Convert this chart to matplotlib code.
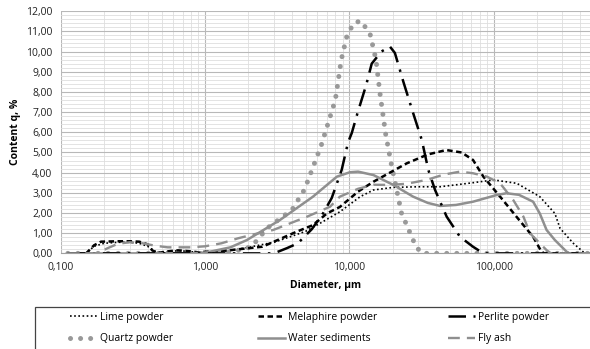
import numpy as np
import matplotlib
matplotlib.use("Agg")
import matplotlib.pyplot as plt
from matplotlib.patches import Rectangle
from matplotlib.ticker import FixedLocator, FuncFormatter, MultipleLocator, NullFormatter

plt.rcParams['font.family'] = ['Open Sans', 'DejaVu Sans']

# particle size distributions (diameter in um, content in %)
lime_x = [0.112, 0.15, 0.17, 0.2, 0.25, 0.3, 0.35, 0.4, 0.45, 0.5, 0.6, 0.7, 0.8, 0.9, 1.0, 1.2, 1.5,
          2.0, 3.0, 4.0, 5.0, 6.3, 8.6, 11.9, 14.7, 20.2, 30, 42.6, 72, 100, 145, 209, 266, 289, 357, 417, 460, 500]
lime_y = [0, 0, 0.35, 0.5, 0.55, 0.55, 0.5, 0.35, 0.1, 0.05, 0.12, 0.12, 0.08, 0.05, 0.05, 0.08, 0.15,
          0.3, 0.55, 0.85, 1.1, 1.5, 2.06, 2.81, 3.14, 3.27, 3.3, 3.3, 3.5, 3.64, 3.47, 2.81, 1.98, 1.24, 0.5, 0.08, 0, 0]

mela_x = [0.112, 0.15, 0.17, 0.19, 0.25, 0.3, 0.35, 0.4, 0.43, 0.47, 0.55, 0.65, 0.8, 0.9, 1.0, 1.2, 1.5,
          2.5, 4.3, 5.6, 7.0, 8.6, 11.5, 14.7, 25, 35, 47, 60, 72, 85, 111, 144, 188, 215, 225, 500]
mela_y = [0, 0, 0.4, 0.58, 0.6, 0.6, 0.58, 0.45, 0.15, 0.02, 0.1, 0.15, 0.1, 0.05, 0.08, 0.1, 0.16,
          0.33, 1.07, 1.4, 1.98, 2.3, 3.06, 3.55, 4.46, 4.9, 5.12, 5.0, 4.63, 3.8, 2.81, 1.82, 0.82, 0.08, 0, 0]

perl_x = [0.112, 1.0, 3.0, 3.7, 4.4, 5.5, 6.6, 7.55, 8.85, 9.8, 10.4, 11.4, 13.1, 14.3, 16.7, 19.1, 20.7,
          23.7, 27.7, 31.8, 35.3, 39.3, 47.3, 58.5, 72, 85, 500]
perl_y = [0, 0, 0, 0.26, 0.5, 1.2, 2.0, 2.74, 4.13, 5.5, 5.96, 6.95, 8.35, 9.4, 10.0, 10.25, 9.93,
          8.5, 6.95, 5.62, 4.13, 3.14, 1.82, 0.82, 0.33, 0, 0]

quar_x = [0.112, 1.0, 1.3, 1.6, 2.1, 2.7, 4.0, 4.9, 6.4, 8.0, 8.8, 9.6, 10.7, 12, 13.9, 15.3, 16.3,
          17.9, 19.7, 23, 29, 32, 500]
quar_y = [0, 0, 0, 0.1, 0.33, 1.25, 2.15, 3.17, 5.37, 7.6, 9.6, 10.74, 11.4, 11.52, 10.9, 9.6, 7.95,
          5.87, 4.3, 2.0, 0.33, 0, 0]

water_x = [0.112, 0.8, 1.03, 1.5, 1.95, 3.3, 5.6, 8.2, 10.1, 11.5, 14.7, 20.2, 27.7, 35, 42.6, 55, 72,
           105, 123, 150, 188, 209, 233, 266, 321, 330, 500]
water_y = [0, 0, 0.05, 0.3, 0.66, 1.65, 2.81, 3.8, 4.02, 4.05, 3.88, 3.39, 2.81, 2.5, 2.35, 2.4, 2.56,
           2.89, 2.98, 2.9, 2.56, 1.98, 1.16, 0.66, 0.08, 0, 0]

fly_x = [0.112, 0.18, 0.21, 0.25, 0.3, 0.37, 0.45, 0.55, 0.8, 1.0, 1.3, 1.7, 2.2, 2.97, 5.1, 7.35, 8.6,
         11.5, 14.7, 19.1, 25, 34.4, 45, 58.5, 72, 90, 111, 137, 161, 179, 233, 250, 500]
fly_y = [0, 0, 0.25, 0.48, 0.55, 0.5, 0.38, 0.3, 0.3, 0.35, 0.5, 0.75, 0.95, 1.16, 1.82, 2.31, 2.81,
         3.2, 3.4, 3.39, 3.45, 3.64, 3.9, 4.05, 3.97, 3.8, 3.47, 2.64, 1.82, 0.99, 0.16, 0, 0]

gray = '#8f8f8f'

fig = plt.figure(figsize=(5.9, 3.49), dpi=100)
ax = fig.add_axes([0.103, 0.274, 0.897, 0.694])

l1, = ax.plot(lime_x, lime_y, color='black', lw=1.2, linestyle=(0, (1, 1.5)), label='Lime powder')
l4, = ax.plot(quar_x, quar_y, color='#999999', lw=3.6, linestyle=(0, (0.01, 2.0)),
              dash_capstyle='round', label='Quartz powder')
l2, = ax.plot(mela_x, mela_y, color='black', lw=1.8, linestyle=(0, (2.2, 1.4)), label='Melaphire powder')
l5, = ax.plot(water_x, water_y, color=gray, lw=1.8, label='Water sediments')
l3, = ax.plot(perl_x, perl_y, color='black', lw=1.8, linestyle=(0, (7, 3, 1, 3)), label='Perlite powder')
l6, = ax.plot(fly_x, fly_y, color=gray, lw=1.7, linestyle=(0, (5, 3)), label='Fly ash')

ax.set_xscale('log')
ax.set_xlim(0.1, 466)
ax.set_ylim(0, 12)

ax.xaxis.set_major_locator(FixedLocator([0.1, 1, 10, 100]))
ax.xaxis.set_minor_locator(FixedLocator([m * 10.0 ** e for e in range(-1, 3) for m in range(2, 10)]))
ax.xaxis.set_minor_formatter(NullFormatter())
ax.xaxis.set_major_formatter(FuncFormatter(lambda v, p: ('%.3f' % v).replace('.', ',')))
ax.yaxis.set_major_locator(MultipleLocator(1))
ax.yaxis.set_minor_locator(MultipleLocator(0.2))
ax.yaxis.set_major_formatter(FuncFormatter(lambda v, p: ('%.2f' % v).replace('.', ',')))

ax.grid(which='major', color='#b8b8b8', lw=0.8)
ax.grid(which='minor', color='#dedede', lw=0.6)
ax.set_axisbelow(True)
for s in ['top', 'right', 'left']:
    ax.spines[s].set_visible(False)
ax.spines['bottom'].set_color('#a0a0a0')
ax.tick_params(which='both', length=0, labelsize=7.5, colors='#222222', pad=6)

ax.set_xlabel('Diameter, µm', fontsize=7.5, fontweight='bold', labelpad=5)
ax.set_ylabel('Content q, %', fontsize=7.5, fontweight='bold', labelpad=4)

# legend box, cut by the right and bottom edges like the original
W, H = 590.0, 349.0
fig.patches.append(Rectangle((35 / W, -0.1), 0.99, 0.1 + (H - 307) / H, transform=fig.transFigure,
                             facecolor='none', edgecolor='#444444', lw=0.9))

cols = [([l1, l4], 70), ([l2, l5], 258), ([l3, l6], 448)]
for hs, xpos in cols:
    lg = fig.legend(handles=hs, loc='upper left', bbox_to_anchor=(xpos / W, 1 - 312 / H),
                    fontsize=7.5, frameon=False, handlelength=2.6, handletextpad=0.3,
                    borderaxespad=0, borderpad=0, labelspacing=1.0)

fig.savefig('out.png', dpi=100)
